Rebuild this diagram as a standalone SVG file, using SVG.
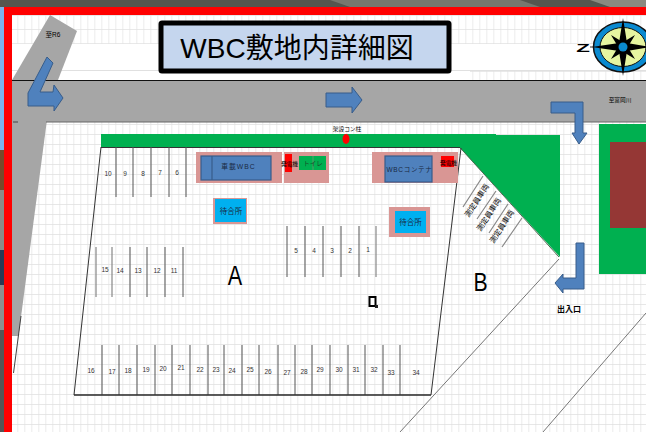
<svg xmlns="http://www.w3.org/2000/svg" width="646" height="432" viewBox="0 0 646 432">
<style>
text{font-family:"Liberation Sans","Noto Sans CJK JP",sans-serif;fill:#000;text-anchor:middle}
.n{font-size:6.5px;fill:#333}
.s{font-size:7.5px}
.xs{font-size:5.7px}
.m{font-size:7.500px;fill:#1a2a44}
.arrow{fill:#4f81bd;stroke:#385d8a;stroke-width:1}
.pink{fill:#d99694}
.blue{fill:#4f81bd;stroke:#385d8a;stroke-width:1.2}
.sky{fill:#00b0f0}
.green{fill:#00b050}
.red{fill:#f00}
.st{stroke:#555;stroke-width:1;fill:none}
.st2{stroke:#888;stroke-width:1.2;fill:none}
.ln{stroke:#333;stroke-width:1;fill:none}
.ln2{stroke:#777;stroke-width:1;fill:none}
</style>
<defs>
<pattern id="gridTop" x="4.300" y="16" width="7" height="14" patternUnits="userSpaceOnUse"><path d="M7 0V14M0 14H7" fill="none" stroke="#e2e2e2" stroke-width="1.300"/></pattern>
<pattern id="grid" x="4.300" y="115" width="7" height="10" patternUnits="userSpaceOnUse"><path d="M7 0V10M0 10H7" fill="none" stroke="#e0e0e0" stroke-width="1.300"/></pattern>
</defs>
<rect width="646" height="432" fill="#fff"/>
<rect x="12" y="15" width="634" height="29" fill="url(#gridTop)"/>
<path d="M12 70.500H646" stroke="#e0e0e0"/>
<rect x="470" y="71" width="176" height="9" fill="url(#gridTop)"/>
<rect x="12" y="122" width="634" height="310" fill="url(#grid)"/>

<g id="photo">
<rect width="646" height="7" fill="#55554e"/>
<path d="M330 0H520L540 7H350Z" fill="#77776e"/>
<path d="M590 0H646V7H610Z" fill="#8a8a80"/>
<rect x="0" y="7" width="4" height="143" fill="#7db4ec"/>
<rect x="0" y="150" width="4" height="40" fill="#7a4a2a"/>
<rect x="0" y="190" width="4" height="60" fill="#8a8a88"/>
<rect x="0" y="250" width="4" height="35" fill="#2a3a55"/>
<rect x="0" y="285" width="4" height="45" fill="#8e8e8e"/>
<rect x="0" y="330" width="4" height="102" fill="#555"/>
</g>

<g id="road">
<path d="M50 15L77 31L58 80H12Z" fill="#a6a6a6"/>
<rect x="12" y="80" width="634" height="42" fill="#a6a6a6"/>
<path d="M12 122H46.700L18.500 336H12Z" fill="#a6a6a6"/>
<path d="M12 80.500H646" stroke="#111" stroke-width="1"/>
<path d="M46 122H646" stroke="#666" stroke-width="1.200"/>
<path d="M13 122H18" stroke="#555" stroke-width="1.200"/>
<path d="M21 316L13.500 373" stroke="#444" stroke-width="1"/>
</g>

<g id="frame">
<rect x="4" y="7" width="8" height="425" fill="#f00"/>
<rect x="4" y="7" width="642" height="8" fill="#f00"/>
</g>

<g id="title">
<rect x="161" y="23" width="288" height="48" rx="1" fill="#c5d6ee" stroke="#000" stroke-width="5"/>
<text x="297" y="58" font-size="28">WBC敷地内詳細図</text>
</g>

<g id="compass">
<text x="0" y="0" font-size="14" font-weight="bold" transform="translate(583 52) scale(1.600 .8)">Z</text>
<path d="M590 47H596" stroke="#333"/>
<ellipse cx="623" cy="47" rx="29.500" ry="25" fill="#0a8ad0" stroke="#111" stroke-width="1.500"/>
<ellipse cx="623" cy="47" rx="23" ry="19.500" fill="#e6f5a0" stroke="#111" stroke-width="1"/>
<path d="M623 18L627 43L650 47L627 51L623 76L619 51L592 47L619 43Z" fill="#000"/>
<path d="M611 35L626 44L635 59L620 50ZM635 35L626 50L611 59L620 44Z" fill="#000"/>
<circle cx="623" cy="47" r="4.500" fill="#0a8ad0"/>
</g>

<g id="green-belt">
<path d="M101 134H496V135H560V257L460 148H101Z" class="green"/>
<path d="M460 147.500L559 257" stroke="#4a6a50" stroke-width="1"/>
</g>
<g id="right-plot">
<rect x="599" y="124" width="47" height="150" class="green"/>
<rect x="610" y="142" width="36" height="86" fill="#953735"/>
</g>

<g id="connectors">
<path class="ln" d="M101 147.500H460M101 147L74 395M74 395H431M431 395L461 148"/>
<path class="ln2" d="M559 259L400 432M646 313L543 432"/>
<path class="arrow" d="M47 57L53 63L40 92H53L54 85L63 98L54 111V106H28V93Z"/>
<path class="arrow" d="M326 93H352V87L362 100L352 113V107H326Z"/>
<path class="arrow" d="M551 102H583V133H587L579 144L572 133H575V113H551Z"/>
<path class="arrow" d="M576 243H584V289H563V293L555 283L563 274V278H576Z"/>
</g>

<g id="stalls">
<path class="st" d="M116 147V197M133 147V197M151 147V197M169 147V197M186 147V197"/>
<path class="st2" d="M96 247V297M112 247V297"/>
<path class="st" d="M130 247V297M147 247V297M165 247V297M183 247V297"/>
<path class="st" d="M287 226V277M305 226V277M323 226V277M341 226V277M359 226V277"/>
<path class="st2" d="M376 226V277"/>
<path class="st" d="M102 345V395M119 345V395M137 345V395M155 345V395M172 345V395M190 345V395M208 345V395M224 345V395M242 345V395M259 345V395M278 345V395M295 345V395M312 345V395M330 345V395M348 345V395M365 345V395M383 345V395M400 345V395"/>
<path class="st2" d="M463 207L483 176M477 219L496 191M489 233L508 204M502 247L522 218"/>
<path d="M74 395H431" stroke="#222" stroke-width="1"/>
</g>

<g id="stall-numbers">
<text class="n" x="108" y="176">10</text><text class="n" x="125" y="176">9</text><text class="n" x="143" y="176">8</text><text class="n" x="160" y="175">7</text><text class="n" x="177" y="175">6</text>
<text class="n" x="105" y="272">15</text><text class="n" x="120" y="273">14</text><text class="n" x="138" y="273">13</text><text class="n" x="157" y="273">12</text><text class="n" x="174" y="273">11</text>
<text class="n" x="296" y="253">5</text><text class="n" x="314" y="253">4</text><text class="n" x="332" y="253">3</text><text class="n" x="350" y="253">2</text><text class="n" x="368" y="252">1</text>
<text class="n" x="91" y="373">16</text><text class="n" x="112" y="374">17</text><text class="n" x="128" y="373">18</text><text class="n" x="146" y="372">19</text><text class="n" x="163" y="371">20</text><text class="n" x="181" y="370">21</text><text class="n" x="200" y="372">22</text><text class="n" x="216" y="372">23</text><text class="n" x="232" y="373">24</text><text class="n" x="250" y="372">25</text><text class="n" x="268" y="374">26</text><text class="n" x="287" y="375">27</text><text class="n" x="304" y="374">28</text><text class="n" x="320" y="372">29</text><text class="n" x="339" y="372">30</text><text class="n" x="356" y="372">31</text><text class="n" x="374" y="372">32</text><text class="n" x="391" y="375">33</text><text class="n" x="416" y="375">34</text>
</g>

<g id="wbc-onboard">
<rect x="196" y="152" width="86" height="31" class="pink"/>
<rect x="201" y="156" width="70" height="24" class="blue"/>
<path d="M212 156V180" stroke="#385d8a" stroke-width="1.200"/>
<text class="m" x="238.500" y="169" style="font-size:6.800px" letter-spacing="1">車載WBC</text>
</g>
<g id="toilet-block">
<rect x="284" y="152" width="45" height="31" class="pink"/>
<rect x="285" y="154" width="7" height="18" class="red"/>
<rect x="299" y="156" width="27" height="14" class="green"/>
<path d="M313 156V170" stroke="#5a9a6a"/>
<text class="xs" x="289.500" y="165.500">発電機</text>
<text x="313" y="166" style="font-size:6.500px;fill:#1a4a2a">トイレ</text>
</g>
<g id="wbc-container">
<rect x="372" y="152" width="86" height="31" class="pink"/>
<rect x="385" y="156" width="47" height="26" class="blue"/>
<rect x="441" y="156" width="13" height="11" class="red"/>
<text class="m" x="409.500" y="172" style="font-size:6.500px" letter-spacing=".7">WBCコンテナ</text>
<text class="xs" x="448.500" y="165">発電機</text>
</g>
<g id="waiting-1">
<rect x="213" y="198" width="34" height="26" class="pink"/>
<rect x="215" y="199" width="31" height="23" class="sky"/>
<text class="m" x="231" y="214">待合所</text>
</g>
<g id="waiting-2">
<rect x="389" y="207" width="41" height="30" class="pink"/>
<rect x="395" y="211" width="31" height="22" class="sky"/>
<text class="m" x="410.500" y="225">待合所</text>
</g>
<g id="pole">
<ellipse cx="346" cy="139" rx="3.500" ry="5" fill="#f00"/>
<text class="xs" x="347" y="131">架設コン柱</text>
</g>
<g id="icon">
<rect x="369.500" y="297" width="6" height="9" fill="#fff" stroke="#000" stroke-width="2"/>
<rect x="375" y="305" width="3" height="3" fill="#222"/>
</g>
<g id="labels">
<text x="0" y="0" font-size="27" fill="#222" transform="translate(235 285) scale(.8 1)">A</text>
<text x="0" y="0" font-size="25" fill="#222" transform="translate(480.500 291) scale(.85 1)">B</text>
<text style="font-size:6.500px" x="53" y="37">至R6</text>
<text class="xs" x="620" y="102">至富岡川</text>
<text x="569" y="312" style="font-size:8px;font-weight:bold">出入口</text>
<text class="s" fill="#444" transform="translate(479 202) rotate(-57)">測定員車両</text>
<text class="s" fill="#444" transform="translate(491 216) rotate(-57)">測定員車両</text>
<text class="s" fill="#444" transform="translate(504 228) rotate(-57)">測定員車両</text>
</g>
</svg>
